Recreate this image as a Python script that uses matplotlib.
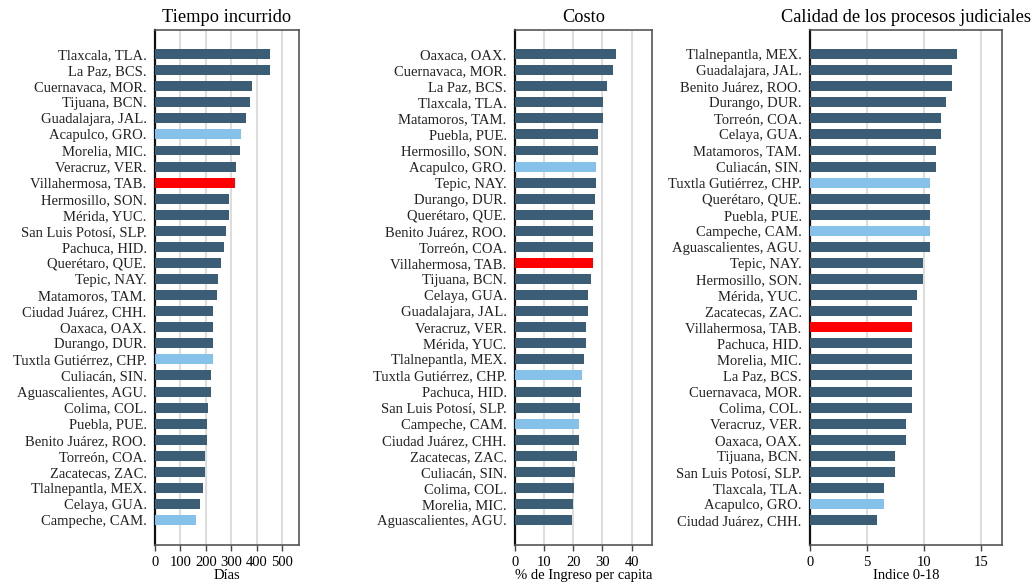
import numpy as np
import matplotlib.pyplot as plt

plt.rcParams['font.family'] = ['Liberation Serif', 'DejaVu Serif']

DARK = "#3c5d76"
LIGHT = "#85c1e9"
RED = "#ff0000"

# Tiempo incurrido (días)
tiempo_cities = ["Tlaxcala, TLA.", "La Paz, BCS.", "Cuernavaca, MOR.", "Tijuana, BCN.",
                 "Guadalajara, JAL.", "Acapulco, GRO.", "Morelia, MIC.", "Veracruz, VER.",
                 "Villahermosa, TAB.", "Hermosillo, SON.", "Mérida, YUC.", "San Luis Potosí, SLP.",
                 "Pachuca, HID.", "Querétaro, QUE.", "Tepic, NAY.", "Matamoros, TAM.",
                 "Ciudad Juárez, CHH.", "Oaxaca, OAX.", "Durango, DUR.", "Tuxtla Gutiérrez, CHP.",
                 "Culiacán, SIN.", "Aguascalientes, AGU.", "Colima, COL.", "Puebla, PUE.",
                 "Benito Juárez, ROO.", "Torreón, COA.", "Zacatecas, ZAC.", "Tlalnepantla, MEX.",
                 "Celaya, GUA.", "Campeche, CAM."]
tiempo_vals = [450, 450, 379, 372, 357, 339, 334, 318, 313, 292, 292, 280, 270, 258, 247,
               242, 226, 226, 226, 226, 218, 218, 209, 203, 203, 197, 197, 187, 176, 161]

# Costo (% de ingreso per capita)
costo_cities = ["Oaxaca, OAX.", "Cuernavaca, MOR.", "La Paz, BCS.", "Tlaxcala, TLA.",
                "Matamoros, TAM.", "Puebla, PUE.", "Hermosillo, SON.", "Acapulco, GRO.",
                "Tepic, NAY.", "Durango, DUR.", "Querétaro, QUE.", "Benito Juárez, ROO.",
                "Torreón, COA.", "Villahermosa, TAB.", "Tijuana, BCN.", "Celaya, GUA.",
                "Guadalajara, JAL.", "Veracruz, VER.", "Mérida, YUC.", "Tlalnepantla, MEX.",
                "Tuxtla Gutiérrez, CHP.", "Pachuca, HID.", "San Luis Potosí, SLP.", "Campeche, CAM.",
                "Ciudad Juárez, CHH.", "Zacatecas, ZAC.", "Culiacán, SIN.", "Colima, COL.",
                "Morelia, MIC.", "Aguascalientes, AGU."]
costo_vals = [34.5, 33.6, 31.7, 30.3, 30.3, 28.4, 28.4, 27.9, 27.9, 27.5, 26.6, 26.6, 26.6,
              26.6, 26.0, 25.1, 25.1, 24.2, 24.2, 23.6, 23.1, 22.7, 22.2, 21.8, 21.8, 21.3,
              20.7, 20.3, 19.8, 19.4]

# Calidad de los procesos judiciales (índice 0-18)
calidad_cities = ["Tlalnepantla, MEX.", "Guadalajara, JAL.", "Benito Juárez, ROO.", "Durango, DUR.",
                  "Torreón, COA.", "Celaya, GUA.", "Matamoros, TAM.", "Culiacán, SIN.",
                  "Tuxtla Gutiérrez, CHP.", "Querétaro, QUE.", "Puebla, PUE.", "Campeche, CAM.",
                  "Aguascalientes, AGU.", "Tepic, NAY.", "Hermosillo, SON.", "Mérida, YUC.",
                  "Zacatecas, ZAC.", "Villahermosa, TAB.", "Pachuca, HID.", "Morelia, MIC.",
                  "La Paz, BCS.", "Cuernavaca, MOR.", "Colima, COL.", "Veracruz, VER.",
                  "Oaxaca, OAX.", "Tijuana, BCN.", "San Luis Potosí, SLP.", "Tlaxcala, TLA.",
                  "Acapulco, GRO.", "Ciudad Juárez, CHH."]
calidad_vals = [12.9, 12.4, 12.4, 11.9, 11.5, 11.5, 11.0, 11.0, 10.5, 10.5, 10.5, 10.5, 10.5,
                9.9, 9.9, 9.4, 8.9, 8.9, 8.9, 8.9, 8.9, 8.9, 8.9, 8.4, 8.4, 7.4, 7.4, 6.5,
                6.5, 5.9]

highlight = {"Villahermosa, TAB.": RED, "Acapulco, GRO.": LIGHT,
             "Tuxtla Gutiérrez, CHP.": LIGHT, "Campeche, CAM.": LIGHT}

W, H = 1036, 584
fig = plt.figure(figsize=(W / 100, H / 100), dpi=100)

panels = [
    ("Tiempo incurrido", tiempo_cities, tiempo_vals, "Días", [0, 100, 200, 300, 400, 500], 565, 155, 299),
    ("Costo", costo_cities, costo_vals, "% de Ingreso per capita", [0, 10, 20, 30, 40], 47, 515, 652),
    ("Calidad de los procesos judiciales", calidad_cities, calidad_vals, "Indice 0-18", [0, 5, 10, 15], 16.8, 810, 1002),
]

top, bottom = 30, 545
for title, cities, vals, xlabel, ticks, xmax, x0, x1 in panels:
    ax = fig.add_axes([x0 / W, 1 - bottom / H, (x1 - x0) / W, (bottom - top) / H])
    y = np.arange(len(cities))
    colors = [highlight.get(c, DARK) for c in cities]
    ax.barh(y, vals, height=0.62, color=colors, zorder=3)
    ax.set_ylim(len(cities) - 0.5 + 1.05, -1.5)
    ax.set_xlim(0, xmax)
    ax.set_yticks(y)
    ax.set_yticklabels(cities, fontsize=10.5, color="#222222")
    ax.tick_params(axis="y", length=0, pad=6)
    ax.set_xticks(ticks)
    ax.tick_params(axis="x", labelsize=10.5, length=4, width=1, color="#444444", pad=4)
    ax.grid(axis="x", color="#dddddd", linewidth=1.5, zorder=0)
    for s in ["top", "right", "bottom"]:
        ax.spines[s].set_color("#555555")
        ax.spines[s].set_linewidth(1.2)
    ax.spines["left"].set_color("#111111")
    ax.spines["left"].set_linewidth(1.6)
    ax.set_title(title, fontsize=13.2, pad=6)
    ax.set_xlabel(xlabel, fontsize=10.5, labelpad=0)

fig.savefig("out.png", dpi=100)
